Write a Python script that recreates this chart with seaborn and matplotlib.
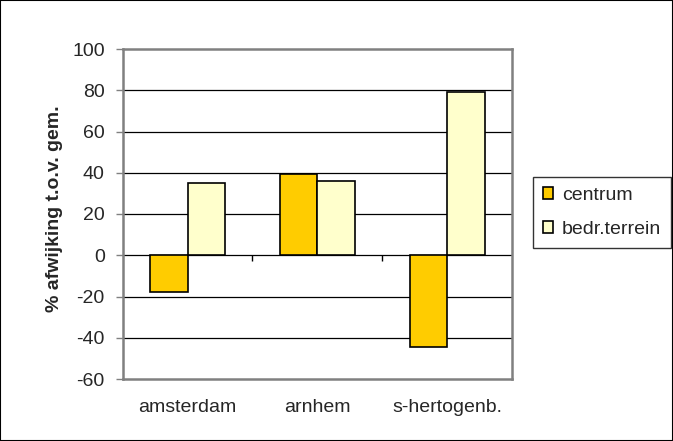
import matplotlib
matplotlib.use("Agg")
import matplotlib.pyplot as plt
from matplotlib.patches import Patch, Rectangle
import pandas as pd
import seaborn as sns

# Deviation from the municipal average, per city and area type
cities = ["amsterdam", "arnhem", "s-hertogenb."]
series = ["centrum", "bedr.terrein"]
centrum = [-18, 39.5, -44.5]
bedr_terrein = [35, 36, 79]
colors = ["#FFCC00", "#FFFFCC"]
y_ticks = [-60, -40, -20, 0, 20, 40, 60, 80, 100]
y_label = "% afwijking t.o.v. gem."

df = pd.DataFrame({
    "stad": cities * 2,
    "type": [series[0]] * len(cities) + [series[1]] * len(cities),
    "waarde": centrum + bedr_terrein,
})

sns.set_theme(style="white")
plt.rcParams["font.family"] = ["Liberation Sans", "DejaVu Sans"]

fig = plt.figure(figsize=(6.73, 4.41), dpi=100)
ax = fig.add_axes([122.7 / 673, 1 - 379 / 441, (512 - 122.7) / 673, (379 - 49) / 441])

sns.barplot(
    data=df, x="stad", y="waarde", hue="type", order=cities, hue_order=series,
    palette=colors, width=0.578, edgecolor="black", linewidth=1.2,
    saturation=1, legend=False, ax=ax, zorder=3,
)

ax.set_xlim(-0.5, len(cities) - 0.5)
ax.set_ylim(y_ticks[0], y_ticks[-1])
ax.set_yticks(y_ticks)
ax.set_yticklabels([str(t) for t in y_ticks], fontsize=14)
ax.set_xlabel("")
ax.set_ylabel("")

# horizontal gridlines
for t in y_ticks[1:-1]:
    ax.axhline(t, color="black", lw=0.9, zorder=1)

for side in ["left", "right", "top", "bottom"]:
    ax.spines[side].set_visible(True)
    ax.spines[side].set_color("#808080")
    ax.spines[side].set_linewidth(1.8)

ax.tick_params(axis="y", direction="out", length=5, width=1, color="#808080",
               pad=8, left=True, labelsize=14)
ax.tick_params(axis="x", length=0, pad=14.5, labelsize=14)

# category separator ticks on the zero line
sec = ax.secondary_xaxis(0, transform=ax.transData)
sec.set_xticks([0.5, 1.5])
sec.tick_params(axis="x", direction="out", length=4, width=1, color="black",
                labelbottom=False)
sec.spines["bottom"].set_visible(False)

fig.text(55 / 673, 1 - 209 / 441, y_label, rotation=90, ha="center", va="center",
         fontsize=14, fontweight="bold")

handles = [Patch(facecolor=c, edgecolor="black", linewidth=1.2) for c in colors]
leg = fig.legend(
    handles, series, loc="upper left", bbox_to_anchor=(533 / 673, 1 - 177 / 441),
    fontsize=14, frameon=True, fancybox=False, shadow=False,
    handlelength=0.55, handleheight=0.55, handletextpad=0.45,
    borderpad=0.5, labelspacing=0.9, borderaxespad=0,
)
leg.get_frame().set_edgecolor("black")
leg.get_frame().set_linewidth(1)

fig.add_artist(Rectangle((0, 0), 1, 1, transform=fig.transFigure, fill=False,
                         edgecolor="black", linewidth=1.5))

fig.savefig("out.png", dpi=100)
